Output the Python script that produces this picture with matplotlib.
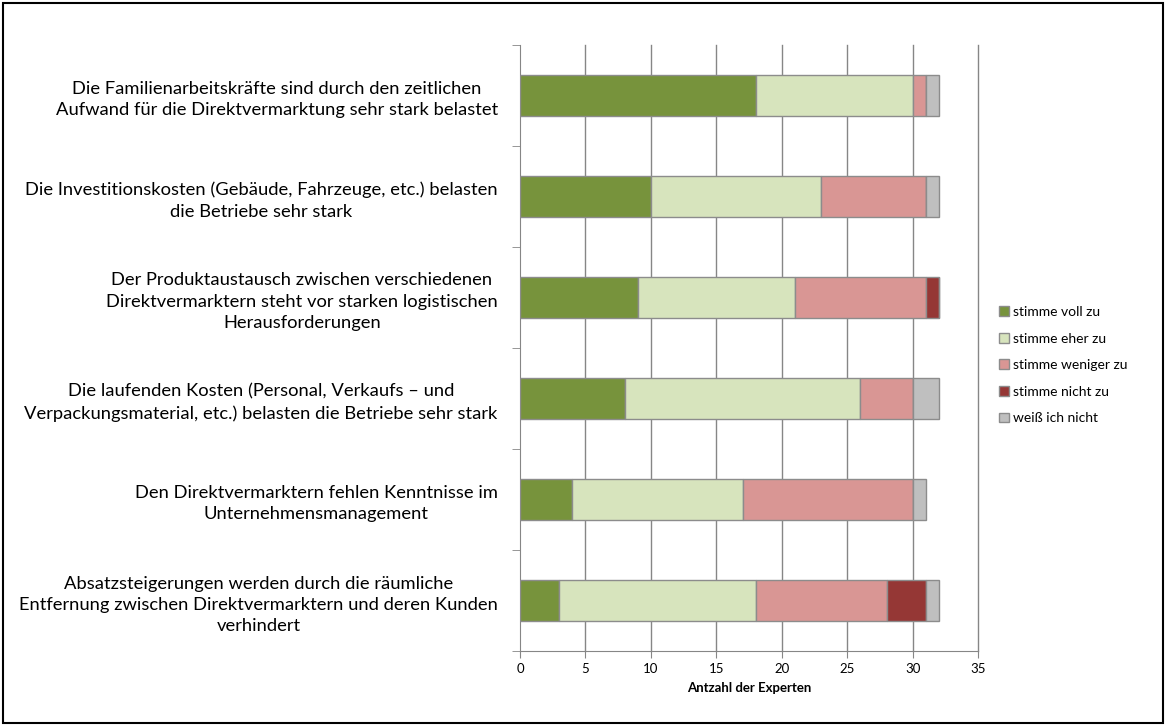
import matplotlib.pyplot as plt
import numpy as np
from matplotlib.patches import Rectangle

plt.rcParams['font.family'] = ['Lato', 'DejaVu Sans']

aussagen = [
    "Die Familienarbeitskräfte sind durch den zeitlichen\nAufwand für die Direktvermarktung sehr stark belastet",
    "Die Investitionskosten (Gebäude, Fahrzeuge, etc.) belasten\ndie Betriebe sehr stark",
    "Der Produktaustausch zwischen verschiedenen\nDirektvermarktern steht vor starken logistischen\nHerausforderungen",
    "Die laufenden Kosten (Personal, Verkaufs – und\nVerpackungsmaterial, etc.) belasten die Betriebe sehr stark",
    "Den Direktvermarktern fehlen Kenntnisse im\nUnternehmensmanagement",
    "Absatzsteigerungen werden durch die räumliche\nEntfernung zwischen Direktvermarktern und deren Kunden\nverhindert",
]

voll_zu = [18, 10, 9, 8, 4, 3]
eher_zu = [12, 13, 12, 18, 13, 15]
weniger_zu = [1, 8, 10, 4, 13, 10]
nicht_zu = [0, 0, 1, 0, 0, 3]
weiss_nicht = [1, 1, 0, 2, 1, 1]

serien = [
    ("stimme voll zu", voll_zu, "#77933C"),
    ("stimme eher zu", eher_zu, "#D7E4BD"),
    ("stimme weniger zu", weniger_zu, "#D99694"),
    ("stimme nicht zu", nicht_zu, "#953735"),
    ("weiß ich nicht", weiss_nicht, "#BFBFBF"),
]

fig = plt.figure(figsize=(11.66, 7.26), dpi=100)
ax = fig.add_axes([0.446, 0.103, 0.393, 0.835])

y = np.arange(len(aussagen))
links = np.zeros(len(aussagen))
for name, werte, farbe in serien:
    werte = np.array(werte, dtype=float)
    ax.barh(y, werte, left=links, height=0.4, color=farbe, edgecolor="#8C8C8C",
            linewidth=1, label=name, zorder=3)
    links += werte

ax.set_xlim(0, 35)
ax.set_ylim(len(aussagen) - 0.5, -0.5)
ax.set_xticks(range(0, 36, 5))
ax.set_yticks(y)
ax.set_yticklabels(aussagen, fontsize=13.2, multialignment="center", linespacing=1.4)
ax.set_yticks(np.arange(-0.5, len(aussagen), 1), minor=True)
ax.tick_params(axis="y", which="major", length=0, pad=16)
ax.tick_params(axis="y", which="minor", length=6, color="#868686")
ax.tick_params(axis="x", length=5, color="#868686", labelsize=9.5)

# senkrechte Gitterlinien, auch bei 35
for xv in range(5, 36, 5):
    ax.axvline(xv, color="#868686", linewidth=1, zorder=0, clip_on=False)
for s in ["top", "right"]:
    ax.spines[s].set_visible(False)
for s in ["left", "bottom"]:
    ax.spines[s].set_color("#868686")

ax.set_xlabel("Antzahl der Experten", fontsize=9.5, fontweight="bold", labelpad=5)

fig.legend(loc="center left", bbox_to_anchor=(0.846, 0.497), frameon=False,
           fontsize=10, handlelength=0.7, handleheight=0.7, handletextpad=0.3,
           labelspacing=1.05)

# Rahmen um die ganze Abbildung
fig.patches.append(Rectangle((0.003, 0.004), 0.994, 0.992, transform=fig.transFigure,
                             fill=False, edgecolor="black", linewidth=1.5))

fig.savefig("out.png", dpi=100)
